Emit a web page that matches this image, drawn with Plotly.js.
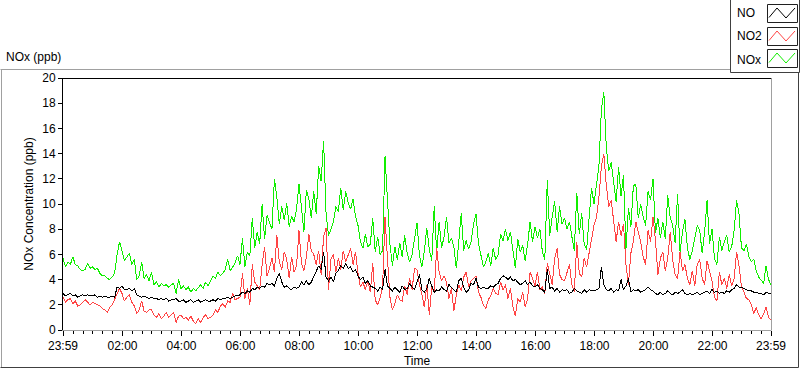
<!DOCTYPE html>
<html>
<head>
<meta charset="utf-8">
<script src="https://cdn.plot.ly/plotly-3.0.1.min.js"></script>
<style>
  html, body { margin: 0; padding: 0; background: #ffffff; }
  #chart { width: 800px; height: 369px; }
  #chart .scatterlayer path.js-line { shape-rendering: crispEdges; }
</style>
</head>
<body>
<div id="chart"></div>
<script>
// ---- data (5-minute samples, starting 23:59) ----
const sampleStepMinutes = 5;

const noValues = [
  2.9,2.7,2.8,2.9,2.7,2.8,2.6,2.7,2.8,2.7,2.8,2.7,
  2.7,2.8,2.6,2.7,2.6,2.7,2.6,2.6,2.7,2.6,3.4,3.3,
  3.5,3.2,3.2,3.3,3.1,3.3,2.8,2.7,2.6,2.7,2.6,2.5,
  2.6,2.5,2.5,2.4,2.5,2.4,2.5,2.3,2.4,2.4,2.5,2.3,
  2.3,2.4,2.2,2.3,2.4,2.2,2.3,2.4,2.2,2.3,2.4,2.3,
  2.3,2.4,2.3,2.5,2.4,2.5,2.5,2.6,2.5,2.6,2.7,2.7,
  2.8,3.0,2.9,3.1,3.0,3.3,3.2,3.4,3.3,3.5,3.4,3.7,
  3.6,3.7,3.5,4.1,4.5,3.8,3.4,3.5,3.3,3.2,3.4,3.3,
  3.4,3.8,3.6,3.9,3.6,3.8,4.2,4.6,5.1,4.8,6.2,4.2,
  3.9,4.2,3.8,4.5,4.7,5.1,4.9,5.3,4.9,5.0,4.6,4.8,
  4.3,4.0,4.2,3.7,3.9,3.5,3.4,3.3,3.1,3.4,3.2,4.8,
  3.5,3.3,3.1,3.4,3.2,3.0,3.5,3.2,3.3,3.7,3.4,3.2,
  3.8,4.4,3.2,3.0,3.3,4.1,3.5,3.0,3.2,3.1,3.4,3.2,
  3.1,3.6,3.4,3.2,3.0,3.9,4.1,3.4,3.0,3.2,3.7,3.6,
  4.1,3.4,3.3,3.4,3.3,3.3,3.5,3.4,3.6,3.7,4.1,4.3,
  4.2,4.0,4.2,3.9,4.0,3.8,3.6,3.7,3.9,3.6,3.8,3.5,
  3.4,3.6,3.3,3.2,3.0,4.8,3.3,3.4,3.1,3.3,3.0,3.2,
  3.1,3.2,2.9,3.0,3.3,3.1,3.0,2.9,3.2,3.0,3.2,3.1,
  3.1,3.2,3.3,5.0,3.6,3.2,3.1,3.3,3.0,3.2,3.1,4.0,
  3.2,3.5,4.1,3.0,3.2,3.1,3.2,3.0,3.1,3.2,3.4,3.2,
  3.1,2.9,2.8,3.0,2.8,2.9,3.1,2.9,2.8,3.0,2.9,3.0,
  3.2,2.9,2.8,2.9,2.8,2.9,3.0,2.8,2.9,3.0,3.1,2.9,
  3.2,3.0,3.1,2.9,3.0,2.9,3.1,3.0,3.2,3.3,3.6,3.4,
  3.4,3.3,3.2,3.1,3.1,3.0,3.0,2.9,2.9,2.8,3.0,2.9,
  2.9
];

const no2Values = [
  2.6,2.2,2.4,2.5,2.1,2.3,1.9,2.0,2.2,2.4,2.2,2.0,
  2.2,2.1,2.0,1.9,1.7,1.6,1.4,1.8,2.0,2.4,2.9,3.3,
  2.9,2.3,2.6,2.8,2.2,1.9,1.3,1.6,2.3,1.5,1.4,1.6,
  1.6,1.2,1.0,1.3,0.9,1.1,1.4,1.0,1.2,1.4,0.6,1.1,
  1.2,0.9,1.0,0.8,1.1,0.7,0.5,0.9,0.6,1.0,1.2,0.9,
  1.0,1.2,1.6,1.4,1.9,2.1,1.8,2.3,2.2,2.9,2.4,2.5,
  2.6,4.5,2.5,3.3,2.0,5.2,3.8,3.5,3.2,5.2,6.6,4.3,
  4.9,5.7,4.6,7.5,5.4,4.8,6.2,5.6,4.1,5.8,4.6,5.1,
  7.9,5.3,4.7,5.8,7.6,6.3,6.0,5.2,6.3,4.4,7.4,8.1,
  3.2,5.6,6.0,4.6,5.7,4.8,6.3,5.4,5.9,6.5,5.2,6.2,
  4.5,3.4,3.8,3.2,3.9,3.0,5.3,2.4,2.0,2.6,3.4,9.0,
  5.6,2.6,1.6,2.1,2.8,2.4,2.3,3.5,2.8,4.1,3.2,4.9,
  4.8,3.6,2.8,1.8,3.6,1.2,3.4,3.0,6.5,4.6,3.9,4.3,
  3.8,2.5,3.3,1.5,2.8,3.6,3.1,4.2,4.6,3.4,3.9,4.1,
  4.3,3.0,2.6,2.0,1.7,2.4,2.7,3.3,2.9,2.8,3.8,3.2,
  3.6,2.5,3.3,1.9,1.1,2.5,2.2,3.0,1.8,2.5,4.6,4.1,
  3.5,4.6,3.2,3.4,2.9,5.3,4.3,3.6,5.7,6.5,4.4,4.0,
  3.9,4.6,5.2,3.6,3.0,7.0,4.5,4.2,5.7,5.0,6.2,7.2,
  8.3,8.9,10.5,13.0,14.0,11.5,9.8,10.3,8.4,7.0,8.6,7.5,
  8.4,5.2,3.6,6.1,7.0,8.6,7.8,7.0,5.8,5.2,7.9,7.0,
  9.0,7.1,4.4,5.7,6.2,4.7,5.7,7.8,5.6,4.4,4.1,6.2,
  4.7,5.2,4.1,3.6,4.7,3.5,5.2,5.6,4.1,3.6,5.5,4.8,
  3.9,2.6,2.3,4.6,3.6,4.1,3.3,4.4,3.5,4.1,6.2,5.1,
  3.4,3.0,2.5,2.4,2.0,1.3,1.8,1.2,0.9,1.3,1.8,1.0,
  0.8
];

const noxValues = [
  5.7,5.0,5.4,5.2,5.8,5.2,5.1,4.8,4.7,4.8,5.3,4.9,
  5.0,4.8,4.9,4.5,4.3,4.3,4.1,4.0,4.2,4.5,6.0,7.0,
  6.3,5.5,5.8,6.1,5.2,5.6,4.0,4.3,5.4,4.1,4.4,3.9,
  4.6,3.6,3.8,3.4,3.7,3.5,3.6,3.4,3.6,3.7,2.9,4.0,
  3.3,3.5,3.2,3.4,3.0,3.3,3.1,3.4,3.6,3.3,3.8,3.5,
  3.9,4.3,4.1,4.6,4.3,4.5,4.8,5.6,4.7,5.0,5.3,5.9,
  5.2,7.3,5.0,6.2,5.9,8.9,6.5,7.8,6.8,10.0,7.2,9.1,
  8.5,8.0,12.0,10.5,8.4,9.8,8.7,10.1,8.2,9.0,8.6,9.6,
  11.6,9.8,7.8,11.1,10.4,8.9,11.0,9.2,13.0,11.8,15.0,9.3,
  7.5,8.0,8.6,9.8,9.4,11.3,9.5,11.0,10.1,9.6,10.4,9.0,
  8.3,7.0,6.5,7.6,6.6,6.8,8.9,6.2,7.4,6.0,6.3,13.8,
  9.8,6.8,5.1,6.6,5.6,6.9,5.8,7.5,6.1,5.4,6.0,7.2,
  8.5,5.9,5.0,6.3,8.1,6.4,5.5,9.8,6.2,8.6,6.5,7.4,
  9.0,6.9,7.3,6.6,4.9,7.0,9.3,6.3,7.1,6.4,7.0,8.4,
  9.2,6.9,5.8,5.0,5.4,6.1,5.1,6.5,5.6,6.0,7.6,7.1,
  8.0,7.1,7.8,6.1,4.9,7.2,6.2,6.7,5.5,6.8,8.6,7.0,
  8.2,7.3,8.0,6.2,5.6,11.9,7.5,9.0,10.2,7.8,9.8,8.4,
  8.9,8.0,8.6,7.4,6.3,10.9,7.6,9.3,6.8,6.4,9.2,11.3,
  10.0,11.5,13.0,17.5,18.9,14.5,12.6,13.3,11.8,10.2,12.9,10.6,
  12.3,6.4,9.7,8.2,11.4,11.6,8.9,10.0,9.0,8.3,11.0,10.3,
  12.0,7.7,8.9,7.3,8.6,7.2,10.7,8.9,8.3,6.9,10.8,6.2,
  7.8,8.8,6.5,5.6,6.3,7.2,8.3,7.9,6.1,7.8,10.3,6.8,
  8.0,5.7,5.2,7.4,6.3,7.0,7.5,6.2,6.6,7.9,10.3,9.2,
  6.5,6.3,6.8,5.8,5.4,5.6,4.7,4.2,3.9,3.7,5.1,4.0,
  3.6
];

// tick positions (minutes after 23:59) and labels
const xTickMinutes = [0, 121, 241, 361, 481, 601, 721, 841, 961, 1081, 1201, 1321, 1440];
const xTickLabels  = ['23:59','02:00','04:00','06:00','08:00','10:00','12:00','14:00','16:00','18:00','20:00','22:00','23:59'];
const seriesNames  = ['NO', 'NO2', 'NOx'];

// ---- build ----
const times = noValues.map((_, i) => i * sampleStepMinutes);

const W = 800, H = 369;
const M = { l: 63, r: 29, t: 78, b: 39 };
const PW = W - M.l - M.r, PH = H - M.t - M.b;
const px = x => (x - M.l) / PW;
const py = y => (H - M.b - y) / PH;

const FONT = 'Liberation Sans, Arial, sans-serif';

const traces = [
  { x: times, y: noxValues, name: seriesNames[2], type: 'scatter', mode: 'lines',
    line: { color: '#11ee00', width: 1 } },
  { x: times, y: no2Values, name: seriesNames[1], type: 'scatter', mode: 'lines',
    line: { color: '#ff4545', width: 1 } },
  { x: times, y: noValues, name: seriesNames[0], type: 'scatter', mode: 'lines',
    line: { color: '#000000', width: 1 } }
];

const shapes = [];
function line(x0, y0, x1, y1, color, width) {
  shapes.push({ type: 'line', xref: 'paper', yref: 'paper',
    x0: px(x0), y0: py(y0), x1: px(x1), y1: py(y1),
    line: { color: color, width: width || 1 } });
}
function rect(x0, y0, x1, y1, color, fill) {
  shapes.push({ type: 'rect', xref: 'paper', yref: 'paper',
    x0: px(x0), y0: py(y0), x1: px(x1), y1: py(y1),
    line: { color: color, width: 1 }, fillcolor: fill || 'rgba(0,0,0,0)' });
}
// outer panel frame
line(0.5, 69.5, 730, 69.5, '#a0a0a0');
line(1.5, 69.5, 1.5, 367.5, '#a0a0a0');
line(0.5, 367.5, 798.5, 367.5, '#404040');
line(798.5, 72, 798.5, 367.5, '#404040');
// plot area top and right borders
line(62.5, 78.5, 771.5, 78.5, '#000000');
line(771.5, 78.5, 771.5, 330.5, '#a0a0a0');
// legend box
rect(730.5, -1, 799.5, 72.5, '#404040', '#ffffff');
const legendColors = ['#000000', '#ff4545', '#11ee00'];
const legendTops = [4.5, 27.5, 49.5];
legendTops.forEach((t, i) => {
  rect(767.5, t, 797.5, t + 18, '#202020', '#ffffff');
  shapes.push({ type: 'path', xref: 'paper', yref: 'paper',
    path: `M ${px(769)} ${py(t + 13)} L ${px(777)} ${py(t + 3.5)} L ${px(786)} ${py(t + 13.5)} L ${px(795)} ${py(t + 3.5)}`,
    line: { color: legendColors[i], width: 1 } });
});

const annotations = [
  { text: 'NOx (ppb)', xref: 'paper', yref: 'paper', x: px(4), y: py(57),
    xanchor: 'left', yanchor: 'middle', showarrow: false,
    font: { family: FONT, size: 12, color: '#000' } }
];
const legendLabelY = [13, 36, 60];
seriesNames.forEach((n, i) => {
  annotations.push({ text: n, xref: 'paper', yref: 'paper', x: px(735), y: py(legendLabelY[i]),
    xanchor: 'left', yanchor: 'middle', showarrow: false,
    font: { family: FONT, size: 12, color: '#000' } });
});

const layout = {
  width: W, height: H,
  margin: M,
  paper_bgcolor: '#ffffff', plot_bgcolor: '#ffffff',
  showlegend: false,
  font: { family: FONT, size: 11, color: '#000' },
  xaxis: {
    type: 'linear', range: [0, 1440], fixedrange: true,
    tickmode: 'array', tickvals: xTickMinutes, ticktext: xTickLabels,
    ticks: 'outside', ticklen: 5, tickwidth: 1, tickcolor: '#000',
    minor: { tick0: 1, dtick: 20, ticks: 'outside', ticklen: 3, tickwidth: 1, tickcolor: '#000', showgrid: false },
    showline: true, linecolor: '#a0a0a0', linewidth: 1,
    showgrid: false, zeroline: false,
    tickfont: { family: FONT, size: 12, color: '#000' },
    title: { text: 'Time', standoff: 4, font: { family: FONT, size: 12, color: '#000' } }
  },
  yaxis: {
    range: [0, 20], fixedrange: true,
    tickmode: 'linear', tick0: 0, dtick: 2,
    ticks: 'outside', ticklen: 4, tickwidth: 1, tickcolor: '#000',
    showline: true, linecolor: '#000', linewidth: 1,
    showgrid: false, zeroline: false,
    tickfont: { family: FONT, size: 12, color: '#000' },
    title: { text: 'NOx Concentration (ppb)', standoff: 6, font: { family: FONT, size: 12, color: '#000' } }
  },
  shapes: shapes,
  annotations: annotations
};

Plotly.newPlot('chart', traces, layout, { staticPlot: true, displayModeBar: false });
</script>
</body>
</html>
